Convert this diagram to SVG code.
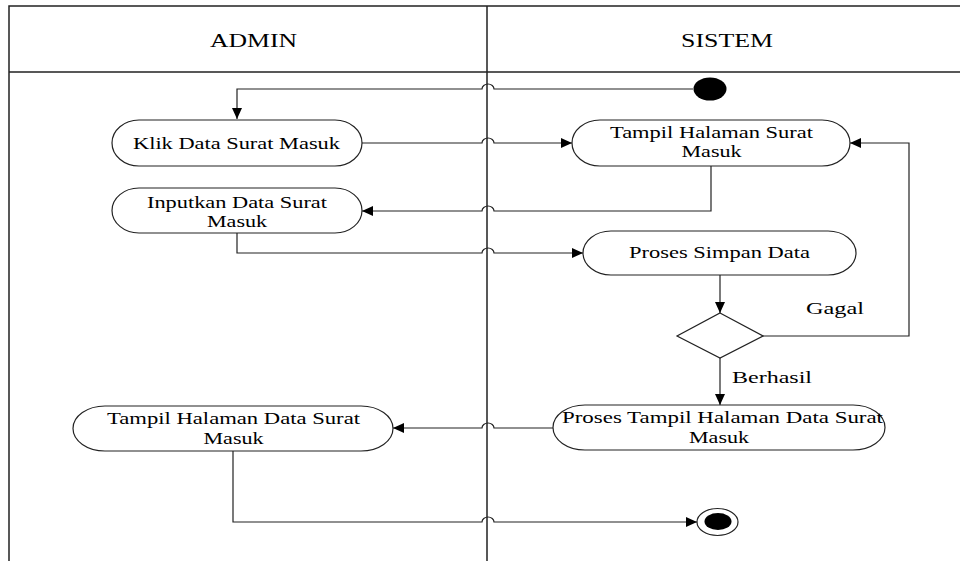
<svg xmlns="http://www.w3.org/2000/svg" width="960" height="561" viewBox="0 0 960 561">
<style>
.frame{stroke:#222;stroke-width:1.5;fill:none}
.node{fill:#fff;stroke:#222;stroke-width:1.2}
.conn{fill:none;stroke:#222;stroke-width:1.2}
.t{font-family:"Liberation Serif","Times New Roman",serif;font-size:17px;fill:#000;text-anchor:middle}
.h{font-family:"Liberation Serif","Times New Roman",serif;font-size:19px;fill:#000;text-anchor:middle}
</style>
<defs>
<marker id="arr" markerUnits="userSpaceOnUse" markerWidth="12" markerHeight="10" refX="11" refY="5" orient="auto">
<path d="M0,0 L11,5 L0,10 Z" fill="#000"/>
</marker>
</defs>
<rect width="960" height="561" fill="#fff"/>
<g id="lanes">
<path class="frame" d="M9,561 V6 H960 M9,72 H960 M487,6 V561"/>
<text class="h" x="253.5" y="47" textLength="87" lengthAdjust="spacingAndGlyphs">ADMIN</text>
<text class="h" x="727" y="47" textLength="92" lengthAdjust="spacingAndGlyphs">SISTEM</text>
</g>
<g id="connectors">
<path class="conn" d="M693,89 H494 A6,5 0 0 0 482,89 H237 V119" marker-end="url(#arr)"/>
<path class="conn" d="M362,143 H482 A6,5 0 0 1 494,143 H572" marker-end="url(#arr)"/>
<path class="conn" d="M711,166 V211 H494 A6,5 0 0 0 482,211 H362" marker-end="url(#arr)"/>
<path class="conn" d="M237,233 V253 H482 A6,5 0 0 1 494,253 H583" marker-end="url(#arr)"/>
<path class="conn" d="M720,275 V313" marker-end="url(#arr)"/>
<path class="conn" d="M763,336 H909 V143 H850" marker-end="url(#arr)"/>
<path class="conn" d="M720,358 V405" marker-end="url(#arr)"/>
<path class="conn" d="M553,428 H494 A6,5 0 0 0 482,428 H393" marker-end="url(#arr)"/>
<path class="conn" d="M233,451 V522 H482 A6,5 0 0 1 494,522 H697" marker-end="url(#arr)"/>
<text class="t" x="835" y="314" textLength="58" lengthAdjust="spacingAndGlyphs">Gagal</text>
<text class="t" x="772" y="383" textLength="80" lengthAdjust="spacingAndGlyphs">Berhasil</text>
</g>
<g id="start">
<ellipse cx="710" cy="89" rx="16.5" ry="11.5" fill="#000"/>
</g>
<g id="klik">
<rect class="node" x="112" y="120" width="250" height="46" rx="27" ry="23"/>
<text class="t" x="236.5" y="149" textLength="207" lengthAdjust="spacingAndGlyphs">Klik Data Surat Masuk</text>
</g>
<g id="tampil-halaman">
<rect class="node" x="572" y="120" width="278" height="46" rx="28" ry="23"/>
<text class="t" x="711.5" y="138" textLength="203" lengthAdjust="spacingAndGlyphs">Tampil Halaman Surat</text>
<text class="t" x="711.5" y="157" textLength="60" lengthAdjust="spacingAndGlyphs">Masuk</text>
</g>
<g id="inputkan">
<rect class="node" x="112" y="188" width="250" height="45" rx="27" ry="22.5"/>
<text class="t" x="237" y="208" textLength="180" lengthAdjust="spacingAndGlyphs">Inputkan Data Surat</text>
<text class="t" x="237" y="227" textLength="60" lengthAdjust="spacingAndGlyphs">Masuk</text>
</g>
<g id="proses-simpan">
<rect class="node" x="583" y="231" width="273" height="44" rx="28" ry="22"/>
<text class="t" x="719.5" y="258" textLength="181" lengthAdjust="spacingAndGlyphs">Proses Simpan Data</text>
</g>
<g id="decision">
<polygon class="node" points="720,313 763,336 720,358 677,336"/>
</g>
<g id="proses-tampil">
<rect class="node" x="553" y="405" width="332" height="45" rx="32" ry="22.5"/>
<text class="t" x="722.5" y="423" textLength="321" lengthAdjust="spacingAndGlyphs">Proses Tampil Halaman Data Surat</text>
<text class="t" x="719" y="443" textLength="60" lengthAdjust="spacingAndGlyphs">Masuk</text>
</g>
<g id="tampil-data">
<rect class="node" x="73" y="406" width="320" height="45" rx="32" ry="22.5"/>
<text class="t" x="233.5" y="424" textLength="253" lengthAdjust="spacingAndGlyphs">Tampil Halaman Data Surat</text>
<text class="t" x="233.5" y="444" textLength="60" lengthAdjust="spacingAndGlyphs">Masuk</text>
</g>
<g id="end">
<ellipse cx="717.5" cy="522" rx="20.5" ry="13.5" fill="#fff" stroke="#222" stroke-width="1.2"/>
<ellipse cx="718" cy="521.5" rx="13.5" ry="8.5" fill="#000"/>
</g>
</svg>
